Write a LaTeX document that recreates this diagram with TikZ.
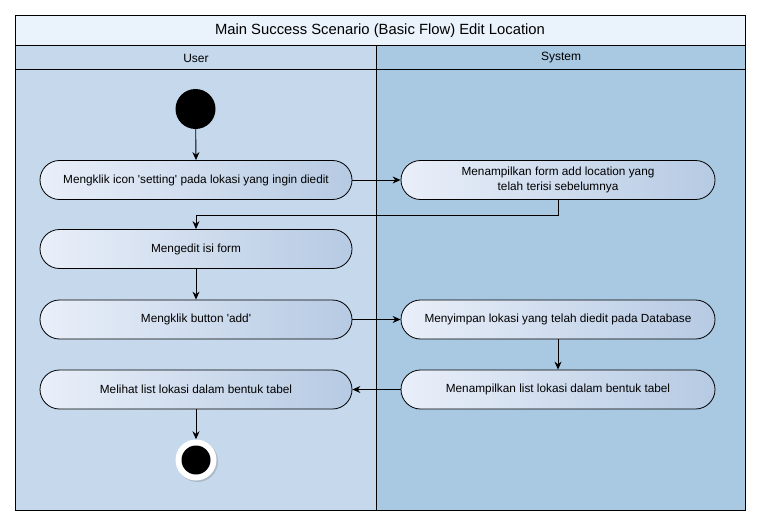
\documentclass[tikz,border=0pt]{standalone}
\usepackage{fontspec}
\setmainfont{Liberation Sans}
\usetikzlibrary{arrows.meta,shadows}
\definecolor{laneU}{HTML}{C5D8EC}
\definecolor{laneS}{HTML}{A9C8E2}
\definecolor{titlebg}{HTML}{EAF2FC}
\definecolor{actL}{HTML}{E9EFF9}
\definecolor{actR}{HTML}{B6CAE3}
\tikzset{
  act/.style={draw=black, line width=0.8pt, rounded corners=19.5pt,
    left color=actL, right color=actR, minimum height=39pt,
    font=\fontsize{11.8}{14.5}\selectfont, align=center, inner sep=2pt},
  flow/.style={draw=black, line width=0.9pt, -{Stealth[length=8pt,width=7pt]}},
  frame/.style={draw=black, line width=0.9pt}
}
\begin{document}
\begin{tikzpicture}[x=1pt,y=-1pt]
\useasboundingbox (0,0) rectangle (760,524);
\fill[white] (0,0) rectangle (760,524);
% lanes
\fill[titlebg] (15,15) rectangle (745,45);
\fill[laneU] (15,45) rectangle (376.5,510);
\fill[laneS] (376.5,45) rectangle (745,510);
\draw[frame] (15,15) rectangle (745,510);
\draw[frame] (15,45) -- (745,45);
\draw[frame] (15,69) -- (745,69);
\draw[frame] (376.5,45) -- (376.5,510);
\node[font=\fontsize{14.8}{17}\selectfont] (title) at (380,30.5) {Main Success Scenario (Basic Flow) Edit Location};
\node[font=\fontsize{12}{14}\selectfont] (userh) at (196,58) {User};
\node[font=\fontsize{12}{14}\selectfont] (sysh) at (561,58) {System};
% start
\node[circle, fill=black, minimum size=40pt, inner sep=0pt] (start) at (195.5,109) {};
% activities
\node[act, minimum width=312pt] (u1) at (196,180) {Mengklik icon \textquotesingle setting\textquotesingle{} pada lokasi yang ingin diedit};
\node[act, minimum width=314pt] (s1) at (558,180) {Menampilkan form add location yang\\telah terisi sebelumnya};
\node[act, minimum width=312pt] (u2) at (196,249) {Mengedit isi form};
\node[act, minimum width=312pt] (u3) at (196,319.5) {Mengklik button \textquotesingle add\textquotesingle};
\node[act, minimum width=314pt] (s2) at (558,319.5) {Menyimpan lokasi yang telah diedit pada Database};
\node[act, minimum width=314pt] (s3) at (558,389.5) {Menampilkan list lokasi dalam bentuk tabel};
\node[act, minimum width=312pt] (u4) at (196,389.5) {Melihat list lokasi dalam bentuk tabel};
% end
\node[circle, fill=white, minimum size=41pt, inner sep=0pt,
  drop shadow={shadow xshift=1.5pt, shadow yshift=-1.5pt, opacity=0.35}] (endo) at (196,460) {};
\node[circle, fill=black, minimum size=29pt, inner sep=0pt] (endi) at (196,460) {};
\coordinate (k) at (196,215);
% flows
\draw[flow] (start) -- (u1.north);
\draw[flow] (u1.east) -- (s1.west);
\draw[flow] (s1.south) |- (k) -- (u2.north);
\draw[flow] (u2.south) -- (u3.north);
\draw[flow] (u3.east) -- (s2.west);
\draw[flow] (s2.south) -- (s3.north);
\draw[flow] (s3.west) -- (u4.east);
\draw[flow] (u4.south) -- (endo.north);
\end{tikzpicture}
\end{document}
